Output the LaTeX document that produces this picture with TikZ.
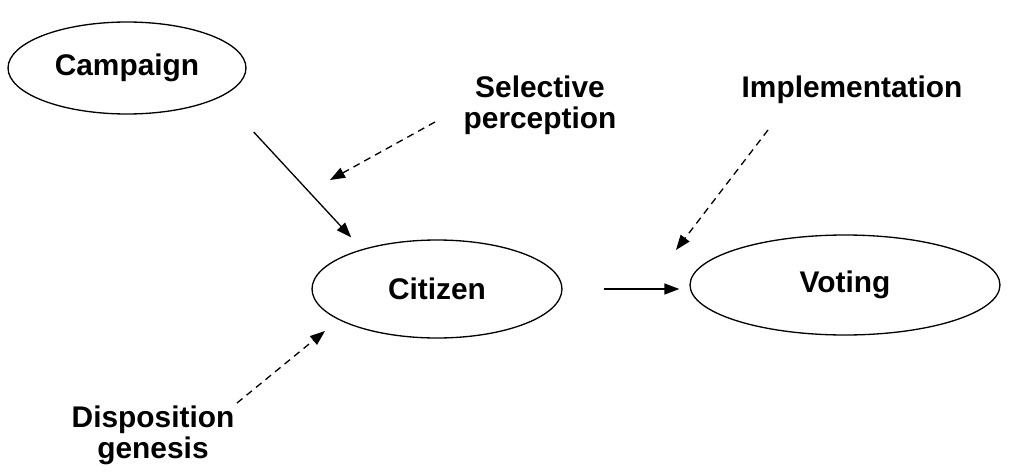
\documentclass[tikz,border=0pt]{standalone}
\usepackage{fontspec}
\setmainfont{Liberation Sans}
\usepackage{tikz}
\usetikzlibrary{arrows.meta}
\usetikzlibrary{positioning,shapes}
\tikzset{
    oval/.style={
        draw,
        ellipse,
        line width=0.75pt,
        inner sep=0pt,
        font=\fontsize{17}{17.5}\selectfont\bfseries
    },
    tag/.style={
        align=center,
        inner sep=0pt,
        font=\fontsize{17}{17.5}\selectfont\bfseries
    },
    solidarr/.style={
        -{Triangle[length=3mm, width=2.2mm]},
        line width=0.75pt
    },
    dasharr/.style={
        solidarr,
        dash pattern=on 4pt off 3pt
    }
}

\begin{document}
\begin{tikzpicture}[x=0.02cm, y=-0.02cm]
    \useasboundingbox (0,0) rectangle (1012,474);
    % Vertices
    \node[oval, minimum width=4.76cm, minimum height=1.84cm] (camp) at (127,68) {Campaign};
    \node[oval, minimum width=5cm, minimum height=1.96cm] (cit) at (437,289) {Citizen};
    \node[oval, minimum width=6.2cm, minimum height=2cm] (vot) at (845,285) {Voting};
    \node[tag, anchor=north] (sel) at (540,76) {Selective\\perception};
    \node[tag, anchor=north] (impl) at (852,76) {Implementation};
    \node[tag, anchor=north] (disp) at (153,406) {Disposition\\genesis};

    % Free ends of the dashed arrows
    \coordinate (selTail) at (435,122);
    \coordinate (selHead) at (330,180);
    \coordinate (implTail) at (768,130);
    \coordinate (implHead) at (676,250);
    \coordinate (dispTail) at (237,403);
    \coordinate (dispHead) at (325,331);

    % Edges
    \draw[solidarr, shorten <=0.96cm, shorten >=0.32cm] (camp.-17) -- (cit.152);
    \draw[solidarr, shorten <=0.82cm, shorten >=0.2cm] (cit.east) -- (vot.west |- cit.east);
    \draw[dasharr] (selTail) -- (selHead);
    \draw[dasharr] (implTail) -- (implHead);
    \draw[dasharr] (dispTail) -- (dispHead);
\end{tikzpicture}
\end{document}
